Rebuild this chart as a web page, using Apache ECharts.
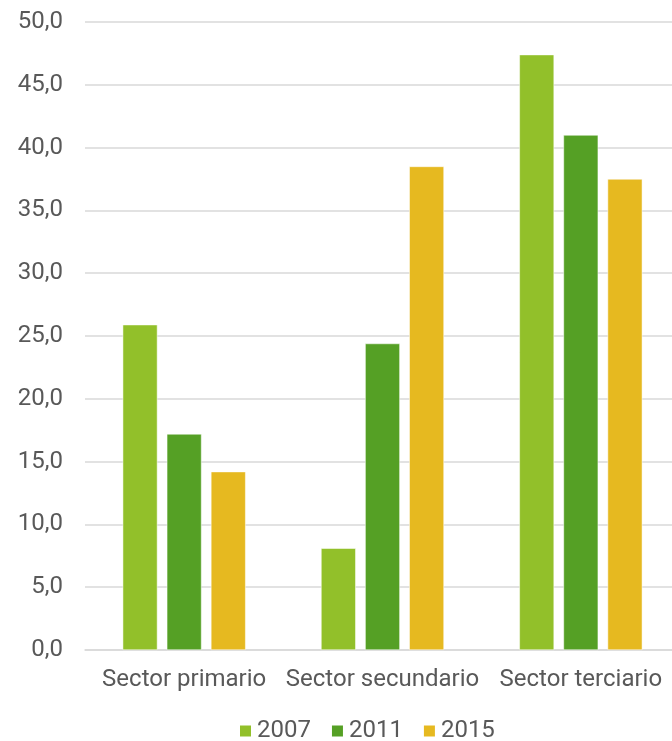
<!DOCTYPE html>
<html><head><meta charset="utf-8">
<script src="https://cdn.jsdelivr.net/npm/echarts@6/dist/echarts.min.js"></script>
<style>html,body{margin:0;padding:0;background:#fff;overflow:hidden}#c{width:680px;height:741px}</style>
</head><body><div id="c"></div>
<script>
const categories = ['Sector primario', 'Sector secundario', 'Sector terciario'];
const years = ['2007', '2011', '2015'];
const v2007 = [25.9, 8.1, 47.4];
const v2011 = [17.2, 24.4, 41.0];
const v2015 = [14.2, 38.5, 37.5];
const colors = ['#92C02A', '#55A025', '#E6B920'];
const seriesData = [v2007, v2011, v2015];

const chart = echarts.init(document.getElementById('c'));
const font = 'Roboto';
chart.setOption({
  animation: false,
  textStyle: { fontFamily: font },
  grid: { left: 85, right: 0, top: 22, bottom: 91, containLabel: false },
  legend: {
    left: 238, top: 719, padding: 0, itemWidth: 13, itemHeight: 13, itemGap: 19,
    icon: 'rect',
    textStyle: { fontSize: 24, color: '#595959', fontFamily: font },
    data: years
  },
  xAxis: {
    type: 'category', data: categories,
    axisLine: { lineStyle: { color: '#D9D9D9', width: 1.5 } },
    axisTick: { show: false },
    axisLabel: { fontSize: 24, color: '#595959', margin: 18, interval: 0, fontFamily: font }
  },
  yAxis: {
    type: 'value', min: 0, max: 50, interval: 5,
    axisLine: { show: false }, axisTick: { show: false },
    splitLine: { lineStyle: { color: '#D9D9D9', width: 1.5 } },
    axisLabel: { fontSize: 24, color: '#595959', margin: 22, fontFamily: font,
      formatter: v => v.toFixed(1).replace('.', ',') }
  },
  series: years.map((y, i) => ({
    name: y, type: 'bar', data: seriesData[i],
    barGap: '27%', barCategoryGap: '38%',
    itemStyle: { color: colors[i], borderColor: '#fff', borderWidth: 0.5 }
  }))
});
</script></body></html>
